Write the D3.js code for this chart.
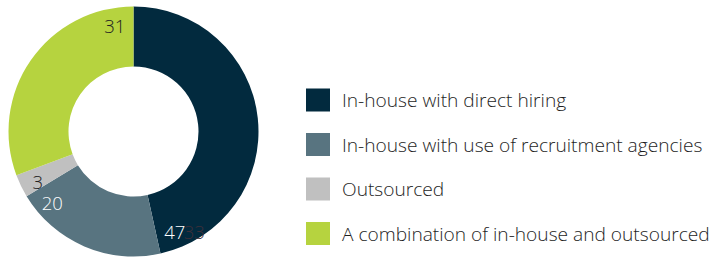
<!DOCTYPE html>
<html>
<head>
<meta charset="utf-8">
<script src="https://cdn.jsdelivr.net/npm/d3@7"></script>
<style>
  html, body { margin: 0; padding: 0; background: #fff; }
  svg { display: block; font-family: "Open Sans", Lato, sans-serif; }
</style>
</head>
<body>
<svg id="chart" width="712" height="260"></svg>
<script>
// Chart data
const categories = [
    "In-house with direct hiring",
    "In-house with use of recruitment agencies",
    "Outsourced",
    "A combination of in-house and outsourced"
];
const values = [47, 20, 3, 31];
const colours = ["#022a3e", "#587480", "#c0c0c0", "#b6d33f"];
const labelColours = ["#ffffff", "#ffffff", "#222222", "#222222"];
// stray label left over in the original artwork, drawn dark on the navy slice
const ghostLabel = "33";

const svg = d3.select("#chart");

// Donut geometry
const cx = 133.5, cy = 131.5;
const outerR = 125, innerR = 65, labelR = 108;

const pie = d3.pie().sort(null).value(d => d);
const arc = d3.arc().innerRadius(innerR).outerRadius(outerR);
const arcs = pie(values);

const donut = svg.append("g").attr("transform", `translate(${cx},${cy})`);

donut.selectAll("path")
    .data(arcs)
    .join("path")
    .attr("d", arc)
    .attr("fill", (d, i) => colours[i]);

// Labels sit near the clockwise end of each slice
function labelPos(d) {
    const off = Math.min(10 * Math.PI / 180, (d.endAngle - d.startAngle) * 0.65);
    const a = d.endAngle - off;
    return [labelR * Math.sin(a), -labelR * Math.cos(a)];
}

donut.selectAll("text.value")
    .data(arcs)
    .join("text")
    .attr("class", "value")
    .attr("x", d => labelPos(d)[0])
    .attr("y", d => labelPos(d)[1])
    .attr("text-anchor", "middle")
    .attr("dominant-baseline", "central")
    .attr("font-size", 18.5)
    .attr("font-weight", 300)
    .attr("fill", (d, i) => labelColours[i])
    .text(d => d.data);

// the ghost label trails the first slice's value
const p0 = labelPos(arcs[0]);
donut.append("text")
    .attr("x", p0[0] + 9)
    .attr("y", p0[1])
    .attr("dominant-baseline", "central")
    .attr("font-size", 18.5)
    .attr("font-weight", 300)
    .attr("fill", "#3d2f3a")
    .text(ghostLabel);

// Legend
const legend = svg.append("g").attr("transform", "translate(306,100)");
const rowH = 44.5;

const rows = legend.selectAll("g")
    .data(categories)
    .join("g")
    .attr("transform", (d, i) => `translate(0,${i * rowH})`);

rows.append("rect")
    .attr("x", 0)
    .attr("y", -11.5)
    .attr("width", 24)
    .attr("height", 23)
    .attr("fill", (d, i) => colours[i]);

const labels = rows.append("text")
    .attr("x", 36)
    .attr("y", 0)
    .attr("dominant-baseline", "central")
    .attr("font-size", 16)
    .attr("font-weight", 300)
    .attr("fill", "#1e1e1e")
    .text(d => d);

// Scale the legend font so the longest line spans the same width as the original
const longest = d3.max(labels.nodes(), n => n.getComputedTextLength());
labels.attr("font-size", 16 * 368 / longest);
</script>
</body>
</html>
